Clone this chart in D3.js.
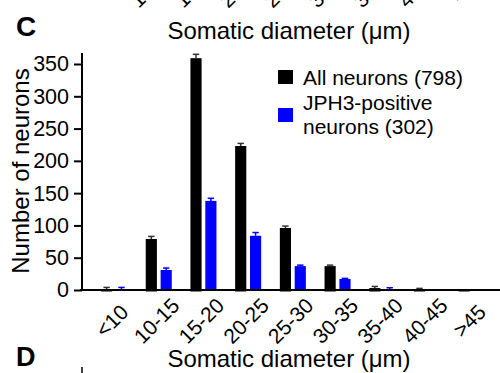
<!DOCTYPE html>
<html>
<head>
<meta charset="utf-8">
<script src="https://cdn.jsdelivr.net/npm/d3@7"></script>
<style>
  html, body { margin: 0; padding: 0; background: #fff; }
  svg { display: block; font-family: "Liberation Sans", Arial, sans-serif; }
</style>
</head>
<body>
<svg id="chart" width="500" height="373"></svg>
<script>
// ---- data ----
const categories = ["<10", "10-15", "15-20", "20-25", "25-30", "30-35", "35-40", "40-45", ">45"];
const seriesNames = ["All neurons (798)", "JPH3-positive neurons (302)"];
const allNeurons = [1, 79, 359, 223, 96, 37, 3, 0.5, 0];
const allNeuronsErr = [3, 4, 6, 4, 3, 1.5, 2.5, 2, 0];
const jph3Neurons = [1, 31, 138, 84, 37, 17, 0.5, 0, 0];
const jph3NeuronsErr = [3, 3, 4, 5, 1.5, 1, 3, 0, 0];
const yTicks = [0, 50, 100, 150, 200, 250, 300, 350];
const seriesColors = ["#000000", "#0000ff"];
const errColors = ["#333333", "#0000ff"];

const svg = d3.select("#chart");

const x0 = d3.scaleBand().domain(categories).range([91.7, 494]).paddingInner(0.418).paddingOuter(0.209);
const x1 = d3.scaleBand().domain([0, 1]).range([0, x0.bandwidth()]).paddingInner(0.25);
const y = d3.scaleLinear().domain([0, 350]).range([290, 64]);
const yTop = y(367);

const series = [allNeurons, jph3Neurons];
const errs = [allNeuronsErr, jph3NeuronsErr];

series.forEach((vals, si) => {
  const g = svg.append("g");
  g.selectAll("rect").data(vals).join("rect")
    .attr("x", (d, i) => x0(categories[i]) + x1(si))
    .attr("width", x1.bandwidth())
    .attr("y", d => y(d))
    .attr("height", d => y(0) - y(d) + (si === 0 ? 1.5 : 0))
    .attr("fill", seriesColors[si]);
  const eg = svg.append("g").attr("stroke", errColors[si]).attr("stroke-width", 1.5);
  vals.forEach((d, i) => {
    const e = errs[si][i];
    if (e <= 0) return;
    const cx = x0(categories[i]) + x1(si) + x1.bandwidth() / 2;
    eg.append("line").attr("x1", cx).attr("x2", cx).attr("y1", y(d)).attr("y2", y(d + e));
    eg.append("line").attr("x1", cx - 3.2).attr("x2", cx + 3.2).attr("y1", y(d + e)).attr("y2", y(d + e));
  });
});

const yAxis = d3.axisLeft(y).tickValues(yTicks).tickSize(8).tickSizeOuter(0).tickPadding(5);
const yg = svg.append("g").attr("transform", "translate(82,0)").call(yAxis);
yg.select(".domain").remove();
yg.selectAll(".tick line").attr("stroke", "#000").attr("stroke-width", 2);
yg.selectAll(".tick text").attr("font-size", 21.5).attr("font-family", "Liberation Sans, Arial, sans-serif").attr("fill", "#000");
svg.append("line").attr("x1", 82).attr("x2", 82).attr("y1", yTop).attr("y2", y(0) + 1)
  .attr("stroke", "#000").attr("stroke-width", 2);

svg.append("line").attr("x1", 80).attr("x2", 500).attr("y1", y(0)).attr("y2", y(0))
  .attr("stroke", "#000").attr("stroke-width", 2);

function drawXLabels(dx, dy) {
  svg.append("g").selectAll("text").data(categories).join("text")
    .attr("transform", d => `translate(${x0(d) + x0.bandwidth() / 2 + 3 + dx},${326 + dy}) rotate(-45)`)
    .attr("text-anchor", "middle")
    .attr("font-size", 21)
    .attr("fill", "#000")
    .text(d => d);
}
drawXLabels(0, 0);
// cut-off tick labels of the panel above (visible at the top edge in the reference)
drawXLabels(-4, -336);

svg.append("text").attr("x", 289).attr("y", 38.5).attr("text-anchor", "middle")
  .attr("font-size", 24).attr("fill", "#000").text("Somatic diameter (μm)");
svg.append("text").attr("x", 289).attr("y", 367).attr("text-anchor", "middle")
  .attr("font-size", 24).attr("fill", "#000").text("Somatic diameter (μm)");
svg.append("text").attr("transform", "translate(28.5,171) rotate(-90)").attr("text-anchor", "middle")
  .attr("font-size", 24).attr("fill", "#000").text("Number of neurons");

svg.append("text").attr("x", 16).attr("y", 35.5).attr("font-size", 28).attr("font-weight", "bold").text("C");
svg.append("text").attr("x", 16).attr("y", 366).attr("font-size", 27).attr("font-weight", "bold").text("D");
svg.append("line").attr("x1", 82).attr("x2", 82).attr("y1", 367).attr("y2", 373).attr("stroke", "#000").attr("stroke-width", 1.5);

const legend = svg.append("g");
legend.append("rect").attr("x", 278).attr("y", 70).attr("width", 15).attr("height", 14).attr("fill", seriesColors[0]);
legend.append("text").attr("x", 303).attr("y", 85).attr("font-size", 21).text("All neurons (798)");
legend.append("rect").attr("x", 278).attr("y", 108).attr("width", 15).attr("height", 14).attr("fill", seriesColors[1]);
legend.append("text").attr("x", 303).attr("y", 110).attr("font-size", 21).text("JPH3-positive");
legend.append("text").attr("x", 303).attr("y", 134).attr("font-size", 21).text("neurons (302)");
</script>
</body>
</html>
